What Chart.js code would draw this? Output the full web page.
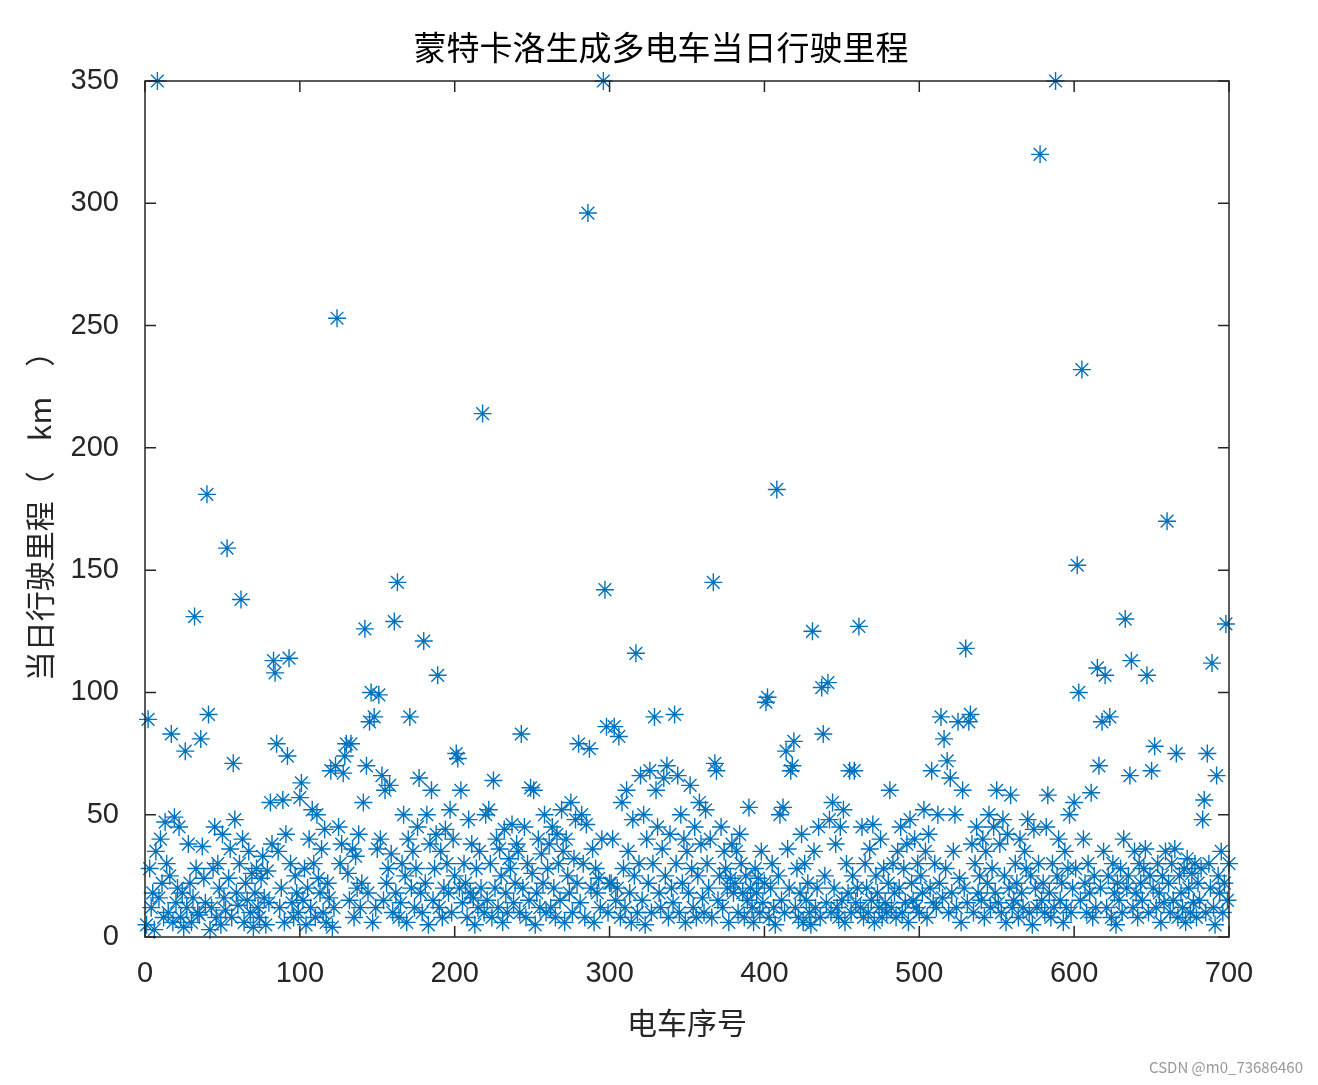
<!DOCTYPE html>
<html>
<head>
<meta charset="utf-8">
<script src="https://cdn.jsdelivr.net/npm/chart.js@4/dist/chart.umd.min.js"></script>
<style>
  html, body { margin: 0; padding: 0; background: #fff; }
</style>
</head>
<body>
<canvas id="chart" width="1318" height="1085"></canvas>
<script>
"use strict";

/* ─── Data ─────────────────────────────────────────────────── */

const CHART_TITLE = "蒙特卡洛生成多电车当日行驶里程";
const X_TITLE = "电车序号";
const Y_TITLE = "当日行驶里程（　km　）";
const X_TICKS = [0, 100, 200, 300, 400, 500, 600, 700];
const Y_TICKS = [0, 50, 100, 150, 200, 250, 300, 350];

/* daily mileage (km) of car 1..700 */
const MILEAGE = [
  5, 89, 28, 12, 18, 3, 35, 350, 16, 40, 22, 8, 47, 30, 10, 25, 83, 6, 49, 14,
  20, 45, 8, 18, 4, 76, 12, 38, 22, 6, 16, 131, 28, 10, 9, 81, 37, 24, 14, 181,
  91, 3, 12, 28, 45, 8, 30, 20, 5, 42, 16, 11, 159, 24, 36, 8, 71, 48, 18, 13,
  30, 138, 40, 6, 22, 15, 35, 10, 26, 4, 18, 28, 12, 8, 24, 33, 16, 5, 27, 14,
  55, 38, 113, 108, 79, 35, 12, 20, 56, 6, 42, 74, 114, 30, 14, 8, 25, 18, 10, 57,
  63, 15, 28, 5, 20, 40, 12, 52, 30, 8, 50, 24, 18, 36, 10, 44, 6, 22, 16, 68,
  4, 12, 70, 253, 45, 30, 38, 67, 74, 79, 26, 15, 79, 36, 8, 33, 20, 42, 12, 22,
  55, 126, 70, 18, 88, 100, 6, 90, 12, 36, 99, 40, 66, 15, 60, 22, 28, 62, 34, 10,
  129, 18, 145, 8, 14, 30, 50, 25, 6, 40, 90, 20, 35, 12, 28, 45, 65, 18, 10, 121,
  22, 50, 5, 38, 60, 15, 28, 42, 107, 12, 35, 8, 20, 44, 30, 18, 52, 10, 40, 25,
  75, 73, 20, 60, 14, 30, 22, 8, 48, 18, 38, 16, 5, 28, 12, 35, 20, 214, 10, 50,
  15, 52, 30, 8, 64, 20, 40, 12, 36, 25, 6, 44, 18, 10, 32, 28, 46, 14, 22, 38,
  35, 10, 83, 20, 45, 8, 30, 15, 61, 26, 60, 5, 18, 40, 12, 34, 22, 50, 10, 28,
  38, 12, 45, 20, 8, 42, 30, 15, 52, 35, 6, 40, 25, 18, 55, 10, 32, 48, 22, 79,
  14, 50, 30, 8, 46, 296, 77, 20, 36, 6, 28, 18, 24, 12, 40, 350, 142, 86, 10, 22,
  22, 40, 86, 15, 20, 82, 8, 55, 28, 12, 60, 35, 18, 6, 48, 25, 116, 10, 30, 66,
  15, 50, 5, 40, 22, 68, 10, 30, 90, 60, 45, 18, 12, 36, 65, 25, 70, 8, 42, 20,
  14, 91, 30, 66, 10, 50, 22, 40, 6, 35, 18, 62, 28, 12, 45, 8, 25, 55, 38, 16,
  10, 52, 30, 20, 40, 8, 145, 71, 68, 15, 25, 45, 12, 35, 28, 20, 6, 24, 38, 18,
  22, 35, 10, 42, 30, 18, 8, 25, 15, 53, 20, 12, 6, 28, 18, 24, 10, 35, 14, 22,
  96, 98, 8, 20, 30, 12, 5, 183, 25, 50, 15, 53, 10, 76, 36, 20, 68, 70, 80, 12,
  28, 8, 18, 42, 6, 30, 15, 22, 10, 5, 125, 35, 12, 20, 45, 8, 102, 83, 25, 14,
  104, 48, 10, 55, 20, 38, 12, 8, 45, 15, 52, 6, 30, 18, 68, 10, 25, 68, 14, 20,
  127, 12, 45, 8, 30, 20, 10, 36, 15, 46, 6, 25, 18, 12, 40, 8, 28, 14, 10, 22,
  60, 12, 30, 18, 8, 35, 20, 45, 10, 28, 14, 38, 6, 48, 22, 15, 40, 12, 30, 10,
  25, 18, 52, 35, 8, 42, 20, 68, 14, 30, 12, 50, 22, 90, 16, 81, 28, 72, 10, 65,
  18, 35, 50, 12, 88, 24, 6, 60, 20, 118, 14, 88, 91, 38, 10, 30, 45, 18, 25, 15,
  40, 8, 35, 22, 50, 12, 28, 45, 18, 60, 14, 38, 10, 48, 25, 6, 42, 20, 58, 12,
  15, 30, 22, 8, 40, 18, 12, 35, 28, 48, 10, 25, 5, 44, 20, 12, 30, 320, 15, 22,
  10, 45, 58, 18, 8, 30, 12, 350, 25, 40, 15, 22, 6, 35, 12, 28, 50, 10, 20, 55,
  28, 152, 100, 15, 232, 40, 22, 10, 30, 18, 59, 8, 25, 12, 110, 70, 20, 88, 35, 107,
  12, 25, 90, 8, 30, 18, 5, 22, 15, 28, 10, 40, 130, 20, 25, 66, 113, 12, 35, 18,
  8, 30, 22, 15, 28, 36, 107, 10, 25, 68, 20, 78, 12, 30, 18, 6, 25, 14, 35, 170,
  22, 10, 30, 15, 36, 75, 8, 25, 18, 12, 28, 6, 32, 20, 10, 26, 14, 30, 8, 22,
  15, 28, 48, 56, 10, 75, 30, 20, 112, 12, 5, 66, 25, 18, 35, 10, 22, 128, 15, 30,
];

/* ─── Constants ────────────────────────────────────────────── */

const BLUE = "#0072BD";
const AXIS_COLOR = "#262626";
const FONT = "'Noto Sans CJK SC', 'Noto Sans', sans-serif";
const TICK_FONT = "'Liberation Sans', Arial, sans-serif";

/* Inward ticks on all four sides, box frame, title and watermark */
const framePlugin = {
  id: "frame",
  afterDraw: function (chart) {
    const ctx = chart.ctx;
    const a = chart.chartArea;
    const xs = chart.scales.x;
    const ys = chart.scales.y;
    const len = 11;
    ctx.save();
    ctx.strokeStyle = AXIS_COLOR;
    ctx.lineWidth = 1.5;
    ctx.strokeRect(a.left, a.top, a.right - a.left, a.bottom - a.top);
    ctx.beginPath();
    X_TICKS.forEach(function (v) {
      const px = xs.getPixelForValue(v);
      ctx.moveTo(px, a.bottom); ctx.lineTo(px, a.bottom - len);
      ctx.moveTo(px, a.top); ctx.lineTo(px, a.top + len);
    });
    Y_TICKS.forEach(function (v) {
      const py = ys.getPixelForValue(v);
      ctx.moveTo(a.left, py); ctx.lineTo(a.left + len, py);
      ctx.moveTo(a.right, py); ctx.lineTo(a.right - len, py);
    });
    ctx.stroke();

    ctx.fillStyle = "#000";
    ctx.font = "33px " + FONT;
    ctx.textAlign = "center";
    ctx.textBaseline = "middle";
    ctx.fillText(CHART_TITLE, 661, 47);

    ctx.fillStyle = "#999";
    ctx.font = "15px " + FONT;
    ctx.textAlign = "right";
    ctx.fillText("CSDN @m0_73686460", 1303, 1067);
    ctx.restore();
  },
};

/* ─── Chart ────────────────────────────────────────────────── */

const points = MILEAGE.map(function (v, i) {
  return { x: i + 1, y: v };
});

new Chart(document.getElementById("chart"), {
  type: "scatter",
  data: {
    datasets: [
      {
        data: points,
        pointStyle: "star",
        pointRadius: 9,
        pointBorderWidth: 1.4,
        borderColor: BLUE,
        backgroundColor: BLUE,
        clip: false,
      },
    ],
  },
  options: {
    responsive: false,
    animation: false,
    layout: { padding: { top: 81, right: 89, bottom: 40, left: 18 } },
    plugins: {
      legend: { display: false },
      tooltip: { enabled: false },
    },
    scales: {
      x: {
        type: "linear",
        min: 0,
        max: 700,
        afterBuildTicks: function (s) {
          s.ticks = X_TICKS.map(function (v) { return { value: v }; });
        },
        afterFit: function (s) { s.height = 108; },
        grid: { display: false },
        border: { display: false },
        ticks: { color: AXIS_COLOR, padding: 12, font: { size: 29, family: TICK_FONT } },
        title: {
          display: true,
          text: X_TITLE,
          color: "#262626",
          font: { size: 30, family: FONT },
          padding: { top: 6 },
        },
      },
      y: {
        min: 0,
        max: 350,
        afterBuildTicks: function (s) {
          s.ticks = Y_TICKS.map(function (v) { return { value: v }; });
        },
        afterFit: function (s) { s.width = 127; },
        grid: { display: false },
        border: { display: false },
        ticks: { color: AXIS_COLOR, padding: 18, font: { size: 29, family: TICK_FONT } },
        title: {
          display: true,
          text: Y_TITLE,
          color: "#262626",
          font: { size: 30, family: FONT },
          padding: { bottom: 2 },
        },
      },
    },
  },
  plugins: [framePlugin],
});
</script>
</body>
</html>
